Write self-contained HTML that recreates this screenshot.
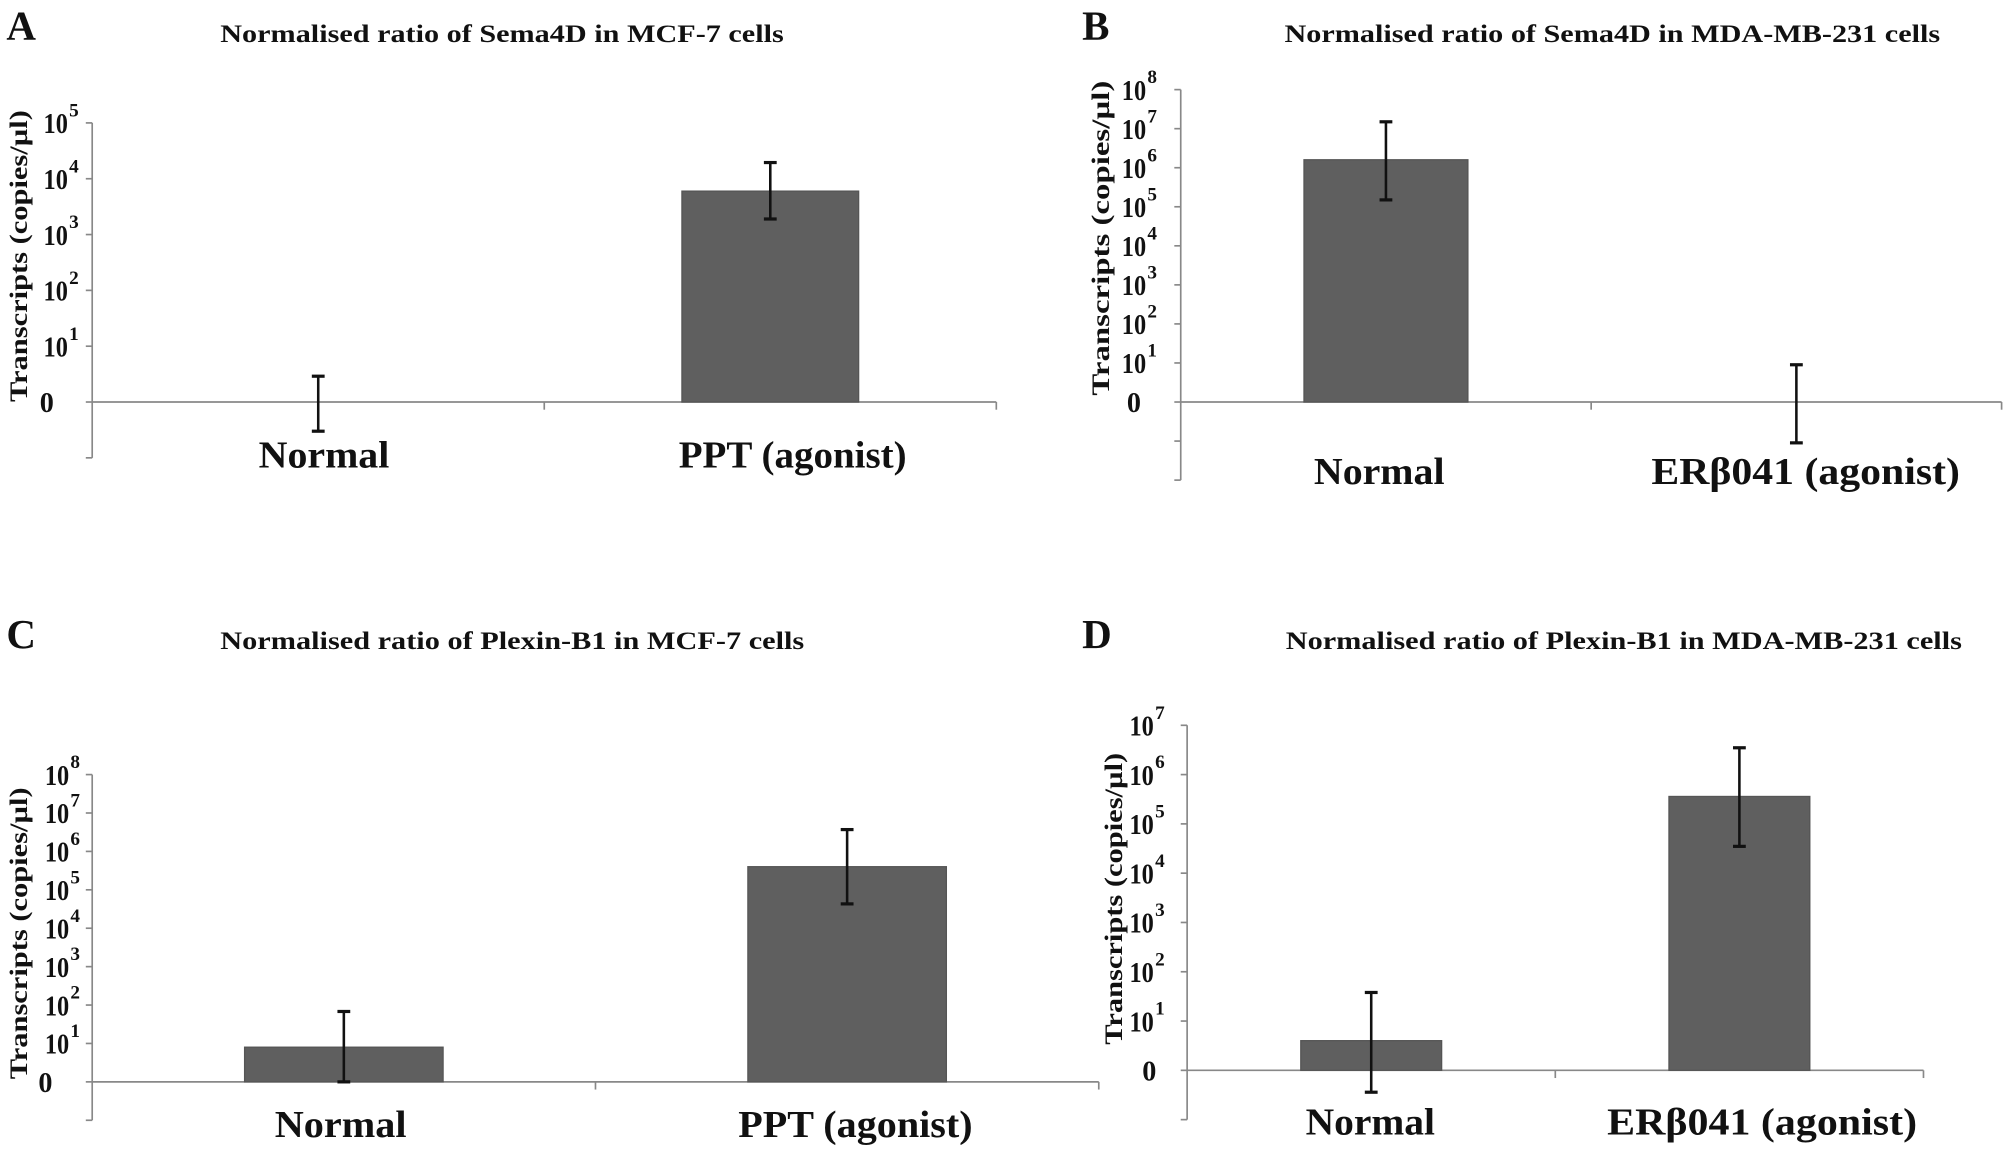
<!DOCTYPE html>
<html><head><meta charset="utf-8"><style>
html,body{margin:0;padding:0;background:#fff}
svg{display:block}
text{font-family:"Liberation Serif",serif;font-weight:bold;fill:#111}
</style></head><body>
<svg id="fig" width="2008" height="1151" viewBox="0 0 1568 899" preserveAspectRatio="none" xmlns="http://www.w3.org/2000/svg"></svg>
<script>
// Data (log10 scale; label "0" = 10^0)
const catsA = ["Normal", "PPT (agonist)"];
const valsA = [1, 6000];
const errHiA = [2.9, 19500];
const errLoA = [0.3, 1900];

const catsB = ["Normal", "ERβ041 (agonist)"];
const valsB = [1.6e6, 1];
const errHiB = [1.5e7, 9];
const errLoB = [1.5e5, 0.09];

const catsC = ["Normal", "PPT (agonist)"];
const valsC = [8, 4e5];
const errHiC = [68, 3.7e6];
const errLoC = [1, 4.3e4];

const catsD = ["Normal", "ERβ041 (agonist)"];
const valsD = [4, 3.6e5];
const errHiD = [38, 3.5e6];
const errLoD = [0.36, 3.5e4];

const panels = [
 {id:"a", letter:"A", lx:5, ly:31, title:"Normalised ratio of Sema4D in MCF-7 cells", tx:172, tw:440, ty:33,
  ax:72, x1:778, y0:314, step:43.6, maxExp:5, minExp:-1, cats:catsA, vals:valsA, hi:errHiA, lo:errLoA, barW:138,
  catY:365, labX:[253,619], labW:[102,178], tickOff:19, zeroOff:30, ytx:21, yty:200, ytw:228},
 {id:"b", letter:"B", lx:845, ly:31, title:"Normalised ratio of Sema4D in MDA-MB-231 cells", tx:1003, tw:512, ty:33,
  ax:922, x1:1563, y0:314, step:30.5, maxExp:8, minExp:-2, cats:catsB, vals:valsB, hi:errHiB, lo:errLoB, barW:128,
  catY:378, labX:[1077,1410], labW:[102,241], tickOff:27, zeroOff:31, ytx:866, yty:186, ytw:246},
 {id:"c", letter:"C", lx:5, ly:506, title:"Normalised ratio of Plexin-B1 in MCF-7 cells", tx:172, tw:456, ty:507,
  ax:72, x1:858, y0:845, step:30, maxExp:8, minExp:-1, cats:catsC, vals:valsC, hi:errHiC, lo:errLoC, barW:155,
  catY:888, labX:[266,668], labW:[103,183], tickOff:18, zeroOff:31, ytx:21, yty:729, ytw:228},
 {id:"d", letter:"D", lx:845, ly:506, title:"Normalised ratio of Plexin-B1 in MDA-MB-231 cells", tx:1004, tw:528, ty:507,
  ax:927, x1:1502, y0:836, step:38.5, maxExp:7, minExp:-1, cats:catsD, vals:valsD, hi:errHiD, lo:errLoD, barW:110,
  catY:886, labX:[1070,1376], labW:[101,242], tickOff:26, zeroOff:24, ytx:876, yty:702, ytw:228}
];

const NS = "http://www.w3.org/2000/svg";
const svg = document.getElementById("fig");
function mk(tag, attrs, parent){const e=document.createElementNS(NS,tag);for(const k in attrs)e.setAttribute(k,attrs[k]);(parent||svg).appendChild(e);return e;}

panels.forEach(p=>{
  const g = mk("g",{});
  
  
  const yS = v => p.y0 - Math.log10(v)*p.step;
  const nC = p.cats.length;
  const band = (p.x1-p.ax)/nC;
  const xC = i => p.ax + band*(i+0.5);

  const L = mk("text",{x:p.lx,y:p.ly,"font-size":32},g); L.textContent=p.letter;
  
  
  const T = mk("text",{x:p.tx,y:p.ty,"font-size":20,textLength:p.tw,lengthAdjust:"spacingAndGlyphs"},g); T.textContent=p.title;
  
  

  const yTop = p.y0 - p.maxExp*p.step, yBot = p.y0 - p.minExp*p.step;
  const ya = mk("line",{x1:p.ax,y1:yTop,x2:p.ax,y2:yBot,stroke:"#888","stroke-width":1.3},g);
  
  
  for(let e=p.minExp;e<=p.maxExp;e++){
    const y=p.y0-e*p.step;
    mk("line",{x1:p.ax-5,y1:y,x2:p.ax,y2:y,stroke:"#888","stroke-width":1.3},g);
    if(e<0) continue;
    const t=mk("text",{x:p.ax-p.zeroOff,y:y+8,"font-size":22,"text-anchor":"end",textLength:11,lengthAdjust:"spacingAndGlyphs"},g);
    
    
    if(e===0){t.textContent="0";}
    else{
      t.setAttribute("x",p.ax-p.tickOff);
      t.setAttribute("textLength",19);
      t.textContent="10";
      const s=mk("text",{x:p.ax-p.tickOff+1,y:y-5,"font-size":15},g); s.textContent=String(e);
      
      
    }
  }
  const xa = mk("line",{x1:p.ax,y1:p.y0,x2:p.x1,y2:p.y0,stroke:"#888","stroke-width":1.3},g);
  
  
  for(let i=1;i<=nC;i++){ const x=p.ax+band*i; mk("line",{x1:x,y1:p.y0,x2:x,y2:p.y0+6,stroke:"#888","stroke-width":1.3},g); }

  const yt = mk("text",{x:0,y:0,"font-size":20,"text-anchor":"middle",textLength:p.ytw,lengthAdjust:"spacingAndGlyphs",transform:`translate(${p.ytx},${p.yty}) rotate(-90)`},g);
  yt.textContent="Transcripts (copies/µl)";
  
  

  p.cats.forEach((c,i)=>{
    const cx=xC(i);
    const v=p.vals[i];
    if(v>1){
      const r=mk("rect",{x:cx-p.barW/2,y:yS(v),width:p.barW,height:p.y0-yS(v),fill:"#5f5f5f",stroke:"#555","stroke-width":1},g);
      
      
    }
    const yh=yS(p.hi[i]), yl=yS(p.lo[i]);
    const eb=mk("g",{},g);
    
    
    mk("line",{x1:cx,y1:yh,x2:cx,y2:yl,stroke:"#111","stroke-width":2},eb);
    mk("line",{x1:cx-5,y1:yh,x2:cx+5,y2:yh,stroke:"#111","stroke-width":2.5},eb);
    mk("line",{x1:cx-5,y1:yl,x2:cx+5,y2:yl,stroke:"#111","stroke-width":2.5},eb);
    const cl=mk("text",{x:p.labX[i]-p.labW[i]/2,y:p.catY,"font-size":30,textLength:p.labW[i],lengthAdjust:"spacingAndGlyphs"},g); cl.textContent=c;
    
    
  });
});
</script>
</body></html>
